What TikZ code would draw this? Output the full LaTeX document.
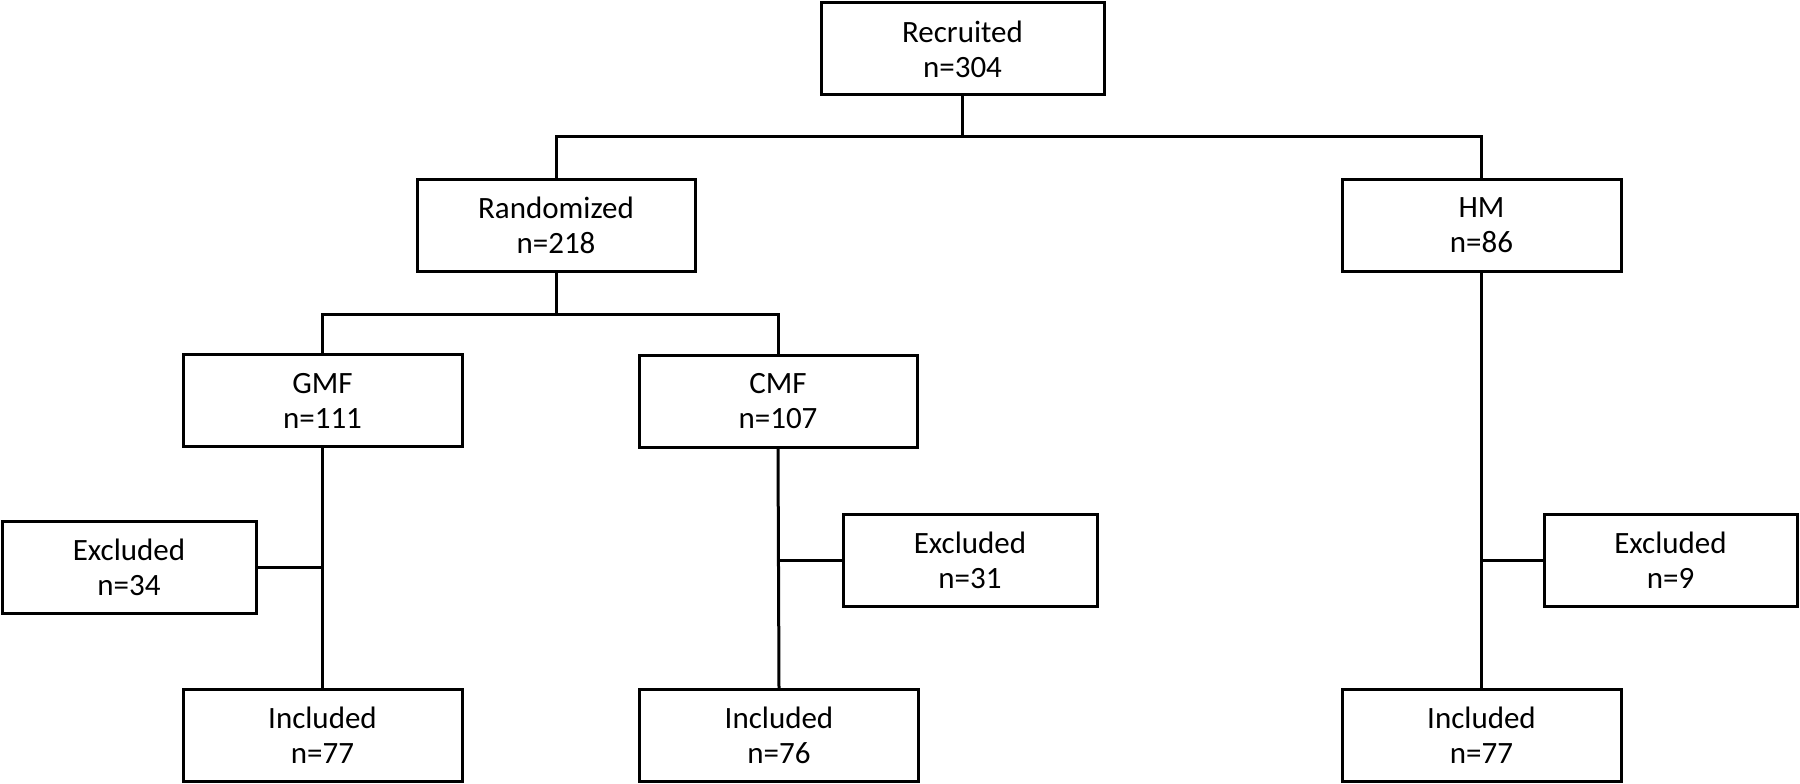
\documentclass[tikz,border=0pt]{standalone}
\usepackage{fontspec}
\setmainfont{Carlito}
\begin{document}
\begin{tikzpicture}[x=1pt,y=-1pt,
  box/.style={draw=black, line width=3pt, rectangle, inner sep=0pt, align=center,
    font=\fontsize{31}{35}\selectfont},
  wide/.style={box, minimum width=279pt, minimum height=92pt},
  narrow/.style={box, minimum width=254pt, minimum height=92pt},
  conn/.style={line width=3pt, black}]
\useasboundingbox (0,0) rectangle (1800,784);
\node[wide, minimum width=283pt] (rec) at (962.5,49) {Recruited\\n=304};
\node[wide, minimum width=278pt] (rand) at (556,225.5) {Randomized\\n=218};
\node[wide] (hm) at (1481.5,225.5) {HM\\n=86};
\node[wide] (gmf) at (322.5,400.5) {GMF\\n=111};
\node[wide, minimum width=278pt] (cmf) at (778,401) {CMF\\n=107};
\node[narrow] (exl) at (129,567.5) {Excluded\\n=34};
\node[narrow] (exm) at (970,560.5) {Excluded\\n=31};
\node[narrow, minimum width=253pt] (exr) at (1670.5,560) {Excluded\\n=9};
\node[wide] (ing) at (322.5,735.5) {Included\\n=77};
\node[wide] (inc) at (779,735.5) {Included\\n=76};
\node[wide] (inh) at (1481.5,735.5) {Included\\n=77};
\coordinate (j1) at (962.5,136);
\coordinate (j2) at (556,314);
\draw[conn] (rec.south) -- (j1);
\draw[conn] (rand.north) |- (j1) -| (hm.north);
\draw[conn] (rand.south) -- (j2);
\draw[conn] (gmf.north) |- (j2) -| (cmf.north);
\draw[conn] (gmf.south) -- (ing.north);
\draw[conn] (cmf.south) -- (inc.north);
\draw[conn] (hm.south) -- (inh.north);
\draw[conn] (exl.east) -- (exl.east -| gmf.south);
\draw[conn] (exm.west) -- (exm.west -| cmf.south);
\draw[conn] (exr.west) -- (exr.west -| hm.south);
\end{tikzpicture}
\end{document}
